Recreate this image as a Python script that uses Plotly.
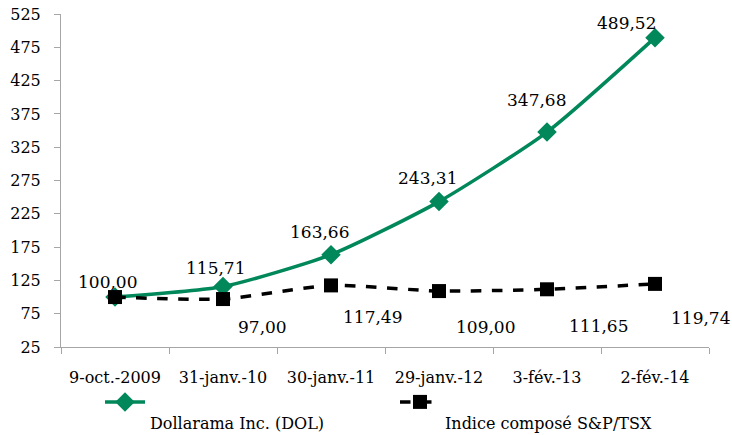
import plotly.graph_objects as go

categories = ["9-oct.-2009", "31-janv.-10", "30-janv.-11", "29-janv.-12", "3-fév.-13", "2-fév.-14"]
dol_values = [100.00, 115.71, 163.66, 243.31, 347.68, 489.52]
tsx_values = [100.00, 97.00, 117.49, 109.00, 111.65, 119.74]
dol_name = "Dollarama Inc. (DOL)"
tsx_name = "Indice composé S&P/TSX"
y_ticks = [25, 75, 125, 175, 225, 275, 325, 375, 425, 475, 525]

GREEN = "#00875A"
FONT = "DejaVu Serif"

# label pixel offsets (styling only)
dol_off = [(-8, 15), (-8, 19), (-12, 23), (-12, 24), (-11, 32), (-29, 15)]
tsx_off = [None, (39, -28), (41, -32), (46, -36), (51, -37), (45, -34)]

def fmt(v):
    return f"{v:.2f}".replace(".", ",")

fig = go.Figure()
fig.add_trace(go.Scatter(
    x=categories, y=dol_values, name="<br>" + dol_name, mode="lines+markers",
    line=dict(color=GREEN, width=3.5, shape="spline", smoothing=0.6),
    marker=dict(symbol="diamond", size=15, color=GREEN),
))
fig.add_trace(go.Scatter(
    x=categories, y=tsx_values, name="<br>" + tsx_name, mode="lines+markers",
    line=dict(color="black", width=3.5, dash="dash", shape="spline", smoothing=0.6),
    marker=dict(symbol="square", size=14, color="black"),
))

annotations = []
for c, v, off in zip(categories, dol_values, dol_off):
    annotations.append(dict(x=c, y=v, text=fmt(v), showarrow=False, xshift=off[0], yshift=off[1],
                            font=dict(family=FONT, size=17, color="black")))
for c, v, off in zip(categories, tsx_values, tsx_off):
    if off is None:
        continue
    annotations.append(dict(x=c, y=v, text=fmt(v), showarrow=False, xshift=off[0], yshift=off[1],
                            font=dict(family=FONT, size=17, color="black")))

fig.update_layout(
    width=732, height=435,
    margin=dict(l=61, r=23, t=14, b=88, autoexpand=False),
    paper_bgcolor="white", plot_bgcolor="white",
    font=dict(family=FONT, size=16, color="black"),
    showlegend=True,
    legend=dict(orientation="h", xref="container", yref="container",
                x=100 / 732, y=1 - 385 / 435, xanchor="left", yanchor="top",
                entrywidth=240, entrywidthmode="pixels", valign="top",
                font=dict(family=FONT, size=16, color="black"), itemwidth=40,
                tracegroupgap=0, bgcolor="rgba(0,0,0,0)"),
    annotations=annotations,
)
fig.update_xaxes(
    type="category", showgrid=False, showline=True, linecolor="#A6A6A6", linewidth=1,
    ticks="outside", tickcolor="#A6A6A6", ticklen=6, tickson="boundaries",
    tickangle=0, ticklabelstandoff=16, tickfont=dict(family=FONT, size=16, color="black"),
    range=[-0.5, 5.5],
)
fig.update_yaxes(
    range=[25, 525], tickvals=y_ticks, showgrid=False, zeroline=False,
    showline=True, linecolor="#A6A6A6", linewidth=1, ticks="outside",
    tickcolor="#A6A6A6", ticklen=6, ticklabelstandoff=10,
    tickfont=dict(family=FONT, size=16, color="black"),
)

fig.write_html("out.html")
